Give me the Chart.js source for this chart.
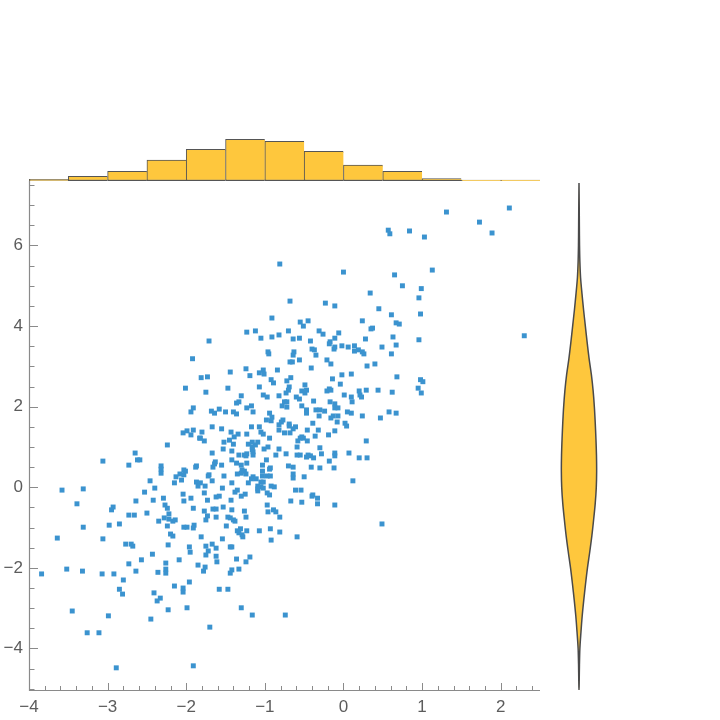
<!DOCTYPE html>
<html>
<head>
<meta charset="utf-8">
<script src="https://cdn.jsdelivr.net/npm/chart.js@4.4.1/dist/chart.umd.min.js"></script>
<style>
  html, body { margin: 0; padding: 0; background: #fff; }
  #wrap { position: relative; width: 720px; height: 720px; }
  #wrap canvas { position: absolute; left: 0; top: 0; }
</style>
</head>
<body>
<div id="wrap">
  <canvas id="scatter" width="720" height="720"></canvas>
  <canvas id="hist" width="720" height="720"></canvas>
  <canvas id="violin" width="720" height="720"></canvas>
</div>
<script>
// scatter points
const pointsX = [
  -0.81,0.00,-0.68,-0.23,-0.11,-0.91,-0.55,-0.45,-0.51,0.24,-1.23,-1.12,-1.05,-0.91,-0.82,-0.70,-0.64,-0.56,-0.42,-0.31,
  -0.26,-0.06,-0.11,0.28,-1.71,-0.17,-0.18,-0.40,-0.37,-0.12,-0.11,-0.02,0.06,0.14,0.14,0.19,0.24,0.26,-0.96,-0.95,
  -0.63,-0.64,-0.35,
  1.31,2.11,1.73,0.57,0.59,0.84,1.03,1.89,1.13,0.65,0.75,0.99,0.34,0.96,0.45,0.61,0.98,0.67,0.71,0.37,
  0.35,2.30,0.63,0.96,0.67,0.49,0.61,
  0.40,0.68,0.98,1.01,0.44,0.62,0.95,0.99,0.58,0.67,0.47,0.49,
  -1.92,-2.01,-1.91,-1.94,-2.04,-1.99,-1.91,-1.94,-1.83,-2.24,-2.65,-3.06,-2.73,-2.62,-2.59,-2.32,-2.32,-2.32,-2.03,-2.01,
  -2.08,-2.03,-2.13,-1.88,-1.87,-2.06,-2.15,-2.46,-1.87,-1.85,-3.58,-3.31,-2.40,-2.53,-2.04,-3.39,-2.64,-2.42,-2.29,-2.27,
  -2.24,-2.03,-1.94,-1.91,-2.93,-2.95,-2.73,-2.66,-2.50,-2.22,
  -2.35,-2.28,-2.22,-2.17,-2.14,-3.31,-2.98,-2.85,-2.24,-2.03,-1.99,-1.91,-1.90,-3.64,-3.06,-2.20,-2.17,-2.77,-2.70,-2.68,
  -2.23,-1.96,-1.95,-2.43,-2.57,-2.09,-2.73,-2.26,-1.85,-3.52,-3.32,-3.84,-3.07,-2.92,-2.64,-2.36,-2.26,-2.26,-2.80,-1.96,
  -2.15,-2.04,-2.04,-2.85,-2.81,-2.41,-2.33,-2.37,-3.45,-2.99,-2.23,-1.99,-2.45,-3.26,-3.11,-2.89,-1.91,
  -1.73,-1.62,-1.47,-1.44,-1.40,-1.38,-1.24,-0.81,-1.75,-1.49,-1.81,-1.54,-1.35,-1.31,-1.33,-1.29,-1.28,-1.23,-1.07,-0.93,
  -0.81,-0.92,-0.59,-1.75,-1.67,-1.62,-1.72,-1.75,-1.44,-1.42,-1.62,-1.61,-1.36,-1.19,-1.24,-1.76,-1.78,-1.42,-1.44,-1.33,
  -1.58,-1.47,-1.30,-1.16,-0.74,-1.70,
  -0.68,-0.65,-0.56,-0.21,-0.16,-0.41,0.30,-1.44,-1.24,-1.07,-1.02,-1.01,-0.84,-1.19,-1.81,-1.73,-0.92,-0.89,-0.72,-0.67,
  -0.49,-0.14,-0.02,0.10,-0.04,-1.47,-1.07,-0.69,-0.70,-0.73,-0.53,-0.47,-0.49,-0.21,-0.18,-0.16,-1.75,0.20,0.29,0.21,
  0.23,0.01,0.10,0.11,-1.30,-1.02,-0.97,-0.82,-0.60,-0.56,-0.38,-1.36,-1.33,-0.75,-0.72,-0.78,-0.72,-0.53,-1.23,-1.17,
  -0.17,-0.11,-0.11,-0.07,-1.68,-1.64,-1.58,-1.50,-1.40,-1.36,-1.15,-0.94,-0.47,-0.47,-0.35,-0.30,-0.24,-0.31,-0.13,-0.16,
  -0.07,0.05,0.10,0.24,-0.91,-0.98,-0.92,-0.77,-0.79,-0.39,-0.08,0.02,0.04,-0.82,-0.69,-0.69,-0.61,-0.64,-1.67,-1.55,
  -1.17,-1.07,-0.82,-0.46,-0.32,-0.11,-1.80,-1.43,-1.34,-1.23,-1.05,-1.02,-0.75,-0.68,-1.39,-0.94,-0.53,-0.55,-0.51,-0.36,
  -0.19,-1.82,-1.77,-1.52,-1.45,-1.21,-1.16,-1.09,-1.12,-1.40,-1.16,-0.58,-0.46,0.29,-1.53,-1.16,-1.15,-1.01,-0.96,-0.82,
  -0.59,-0.30,-1.67,-1.42,-1.33,-1.26,-1.24,-1.23,-1.15,-0.86,-0.73,-0.59,-0.55,-0.47,-0.45,-0.42,-0.38,-0.28,-0.11,-0.11,
  0.07,0.20,0.30,-1.42,-0.98,-0.18,-1.63,-1.64,-1.55,-1.66,-1.36,-1.30,-1.23,-1.03,-0.93,-0.94,-0.70,-0.64,-0.41,-0.30,
  -0.12,-1.29,-1.26,-1.03,-1.30,-1.35,-1.24,-0.64,-0.64,-1.71,-1.72,-1.52,-1.03,-0.97,-0.93,-1.15,-1.17,-1.11,-0.50,-1.67,
  -1.21,-1.05,-1.02,-1.42,-1.82,-1.76,-1.09,-1.05,-0.92,-0.88,-1.09,-1.02,-1.54,0.12,-0.61,-0.54,-1.77,-1.35,-1.38,-1.25,
  -1.09,-0.97,-0.94,-1.62,-1.58,-1.30,-0.40,-0.39,-0.33,-1.73,-1.43,-0.67,-0.53,-0.33,-0.11,-0.97,-1.66,-1.62,-1.53,-1.77,
  -1.42,-1.26,-0.96,-0.89,-0.86
];
const pointsY = [
  5.54,5.34,4.62,4.57,4.50,4.20,4.10,4.13,4.00,4.13,3.85,3.88,3.70,3.73,3.78,3.88,3.68,3.70,3.63,3.88,
  3.80,3.83,3.70,3.68,3.63,3.61,3.56,3.43,3.41,3.43,3.48,3.51,3.48,3.51,3.38,3.41,3.36,3.31,3.36,3.31,
  3.36,3.28,3.28,
  6.83,6.93,6.58,6.38,6.29,6.36,6.21,6.31,5.39,5.27,5.00,4.93,4.82,4.70,4.43,4.28,4.30,4.08,4.05,3.95,
  3.93,3.76,3.73,3.66,3.53,3.48,3.31,
  3.06,2.74,2.67,2.62,2.41,2.36,2.46,2.34,1.87,1.84,1.72,-0.91,
  3.19,2.46,1.97,1.87,1.35,1.40,1.42,1.30,1.22,1.05,0.85,0.65,0.55,0.68,0.68,0.53,0.45,0.35,0.43,0.40,
  0.33,0.31,0.26,0.50,0.53,0.18,0.11,0.16,0.13,0.03,-0.07,-0.04,-0.02,-0.12,-0.17,-0.41,-0.34,-0.32,-0.27,-0.44,
  -0.52,-0.34,-0.27,-0.52,-0.49,-0.56,-0.69,-0.69,-0.64,-0.66,
  -0.84,-0.76,-0.79,-0.84,-0.81,-0.99,-0.94,-0.91,-0.96,-0.99,-0.99,-1.01,-0.94,-1.26,-1.28,-1.16,-1.21,-1.41,-1.41,-1.46,
  -1.43,-1.48,-1.61,-1.66,-1.80,-1.80,-1.90,-1.88,-1.93,-2.03,-2.08,-2.15,-2.15,-2.15,-2.08,-2.11,-2.03,-2.13,-2.30,-2.35,
  -2.45,-2.50,-2.60,-2.53,-2.65,-2.62,-2.75,-2.82,-3.07,-3.19,-3.04,-2.99,-3.27,-3.61,-3.61,-4.48,-4.43,
  -0.71,-0.74,-0.74,-0.76,-0.81,-0.84,-0.74,-0.74,-0.81,-0.96,-1.23,-1.28,-1.08,-1.03,-1.13,-1.18,-1.23,-1.08,-1.08,-1.03,
  -1.11,-1.31,-1.23,-1.46,-1.41,-1.51,-1.58,-1.68,-1.48,-1.48,-1.71,-1.85,-1.78,-1.73,-1.85,-1.98,-2.08,-2.05,-2.13,-2.03,
  -2.53,-2.53,-2.99,-3.17,-3.17,-3.47,
  3.11,3.11,3.16,3.16,3.06,2.96,3.01,2.86,2.94,2.84,2.91,2.81,2.91,2.77,2.72,2.74,2.67,2.59,2.64,2.72,
  2.54,2.69,2.79,2.81,2.56,2.46,2.49,2.49,2.41,2.34,2.39,2.41,2.34,2.39,2.44,2.41,2.36,2.39,2.41,2.29,
  2.24,2.29,2.24,2.12,2.27,2.29,2.24,2.27,2.24,2.19,2.14,2.09,2.12,2.12,2.12,2.02,1.99,2.02,1.97,2.02,
  2.12,2.07,1.97,1.97,1.89,1.84,1.94,1.87,1.87,1.82,1.87,1.84,1.92,1.84,1.92,1.92,1.89,1.77,1.77,1.72,
  1.77,1.87,1.84,1.77,1.74,1.67,1.65,1.67,1.62,1.59,1.62,1.59,1.52,1.55,1.57,1.52,1.50,1.45,1.50,1.45,
  1.50,1.50,1.42,1.42,1.42,1.40,1.37,1.37,1.32,1.32,1.37,1.32,1.35,1.35,1.25,1.22,1.25,1.22,1.22,1.27,
  1.30,1.22,1.15,1.12,1.17,1.07,1.12,1.12,1.05,1.07,1.00,1.15,1.15,1.15,0.95,0.93,0.88,0.95,1.00,0.95,
  1.00,0.98,0.85,0.90,0.80,0.80,0.78,0.83,0.80,0.80,0.83,0.80,0.80,0.75,0.80,0.78,0.73,0.83,0.85,0.78,
  0.85,0.73,0.73,0.68,0.68,0.65,0.63,0.58,0.55,0.50,0.60,0.55,0.60,0.55,0.48,0.45,0.53,0.50,0.50,0.48,
  0.48,0.43,0.40,0.40,0.35,0.33,0.33,0.33,0.23,0.31,0.28,0.28,0.28,0.28,0.28,0.26,0.21,0.21,0.26,0.16,
  0.11,0.13,0.13,0.11,0.11,0.03,0.03,0.01,0.03,0.01,-0.04,-0.02,-0.02,0.16,-0.07,-0.07,-0.14,-0.07,-0.12,-0.17,
  -0.09,-0.14,-0.19,-0.24,-0.22,-0.22,-0.22,-0.19,-0.27,-0.32,-0.32,-0.34,-0.37,-0.41,-0.44,-0.44,-0.54,-0.54,-0.49,-0.59,
  -0.56,-0.59,-0.61,-0.56,-0.61
];

// top histogram: bins of width 0.5
const binStarts = [-4, -3.5, -3, -2.5, -2, -1.5, -1, -0.5, 0, 0.5, 1, 1.5, 2];
const binCounts = [4, 11, 23, 50, 76, 100, 95, 71, 38, 23, 6, 2, 2];
const binWidth = 0.5;

// right violin: relative half-width along y
const violinY = [7.55, 7.0, 6.5, 6.0, 5.6, 5.2, 4.8, 4.4, 4.0, 3.6, 3.2, 2.8, 2.4, 2.0, 1.6, 1.2, 0.8, 0.4,
  0.0, -0.4, -0.8, -1.2, -1.6, -2.0, -2.4, -2.8, -3.2, -3.6, -4.0, -4.4, -4.8, -5.08];
const violinWidth = [0, 0.012, 0.02, 0.03, 0.05, 0.09, 0.17, 0.26, 0.36, 0.46, 0.57, 0.70, 0.80, 0.87, 0.92, 0.96, 0.99, 1.0,
  0.98, 0.92, 0.83, 0.73, 0.61, 0.48, 0.37, 0.27, 0.18, 0.11, 0.05, 0.025, 0.012, 0];

const xTickLabels = [-4, -3, -2, -1, 0, 1, 2];
const yTickLabels = [-4, -2, 0, 2, 4, 6];

const X_MIN = -4, X_MAX = 2.5, Y_MIN = -5.03, Y_MAX = 7.6;
const BLUE = '#3b93cf';
const GOLD = '#fec73d';
const EDGE = '#555555';
const AXIS = '#8a8a8a';
const LABEL = '#5c5c5c';
const FONT = { family: 'Liberation Sans, Arial, sans-serif', size: 17 };

const fmt = v => (v < 0 ? '\u2212' + Math.abs(v) : String(v));

// inward ticks plus left/bottom axis lines, Mathematica style
const frameTicks = {
  id: 'frameTicks',
  beforeDatasetsDraw(chart) {
    const { ctx, chartArea: a, scales: { x, y } } = chart;
    ctx.save();
    ctx.strokeStyle = AXIS;
    ctx.lineWidth = 1.2;
    ctx.beginPath();
    ctx.moveTo(a.left + 0.5, a.top);
    ctx.lineTo(a.left + 0.5, a.bottom + 0.5);
    ctx.lineTo(a.right, a.bottom + 0.5);
    ctx.stroke();
    ctx.lineWidth = 1;
    ctx.beginPath();
    for (let i = -20; i <= 12; i++) {
      const v = i * 0.2;
      const major = i % 5 === 0;
      const px = Math.round(x.getPixelForValue(v)) + 0.5;
      ctx.moveTo(px, a.bottom);
      ctx.lineTo(px, a.bottom - (major ? 7 : 4));
    }
    for (let i = -10; i <= 15; i++) {
      const v = i * 0.5;
      const major = i % 4 === 0;
      const py = Math.round(y.getPixelForValue(v)) + 0.5;
      ctx.moveTo(a.left, py);
      ctx.lineTo(a.left + (major ? 9 : 5.5), py);
    }
    ctx.stroke();
    ctx.restore();
  }
};

new Chart(document.getElementById('scatter'), {
  type: 'scatter',
  data: {
    datasets: [{
      data: pointsX.map((x, i) => ({ x, y: pointsY[i] })),
      pointStyle: 'rect',
      pointRadius: 3.5,
      backgroundColor: BLUE,
      borderWidth: 0
    }]
  },
  options: {
    responsive: false,
    animation: false,
    layout: { padding: { left: 0, top: 181, right: 180, bottom: 0 } },
    plugins: { legend: { display: false }, tooltip: { enabled: false } },
    scales: {
      x: {
        type: 'linear', min: X_MIN, max: X_MAX,
        afterFit: s => { s.height = 30; },
        afterBuildTicks: s => { s.ticks = xTickLabels.map(value => ({ value })); },
        grid: { display: false, drawTicks: false },
        border: { display: false },
        ticks: { autoSkip: false, maxRotation: 0, padding: 7, color: LABEL, font: FONT, callback: fmt }
      },
      y: {
        type: 'linear', min: Y_MIN, max: Y_MAX,
        afterFit: s => { s.width = 29; },
        afterBuildTicks: s => { s.ticks = yTickLabels.map(value => ({ value })); },
        grid: { display: false, drawTicks: false },
        border: { display: false },
        ticks: { autoSkip: false, padding: 6, color: LABEL, font: FONT, callback: fmt }
      }
    }
  },
  plugins: [frameTicks]
});

new Chart(document.getElementById('hist'), {
  type: 'bar',
  data: {
    datasets: [{
      data: binStarts.map((b, i) => ({ x: b + binWidth / 2, y: binCounts[i] })),
      backgroundColor: GOLD,
      borderColor: EDGE,
      borderWidth: { top: 1, left: 1, right: 0, bottom: 1.5 },
      borderSkipped: false,
      barPercentage: 1,
      categoryPercentage: 1
    }]
  },
  options: {
    responsive: false,
    animation: false,
    layout: { padding: { left: 29, right: 180, top: 131, bottom: 539 } },
    plugins: { legend: { display: false }, tooltip: { enabled: false } },
    scales: {
      x: { type: 'linear', min: X_MIN, max: X_MAX, offset: false, display: false, ticks: { stepSize: 0.5 } },
      y: { min: 0, max: 120, display: false }
    }
  }
});

const rightSide = violinY.map((y, i) => ({ x: violinWidth[i], y }));
const leftSide = violinY.map((y, i) => ({ x: -violinWidth[i], y })).reverse().slice(1);

new Chart(document.getElementById('violin'), {
  type: 'scatter',
  data: {
    datasets: [{
      data: rightSide.concat(leftSide),
      showLine: true,
      fill: 'shape',
      tension: 0.3,
      backgroundColor: GOLD,
      borderColor: '#4a4a4a',
      borderWidth: 1.5,
      pointRadius: 0
    }]
  },
  options: {
    responsive: false,
    animation: false,
    layout: { padding: { left: 552, right: 114, top: 181, bottom: 30 } },
    plugins: { legend: { display: false }, tooltip: { enabled: false } },
    scales: {
      x: { type: 'linear', min: -1.53, max: 1.53, display: false },
      y: { type: 'linear', min: Y_MIN, max: Y_MAX, display: false }
    }
  }
});
</script>
</body>
</html>
